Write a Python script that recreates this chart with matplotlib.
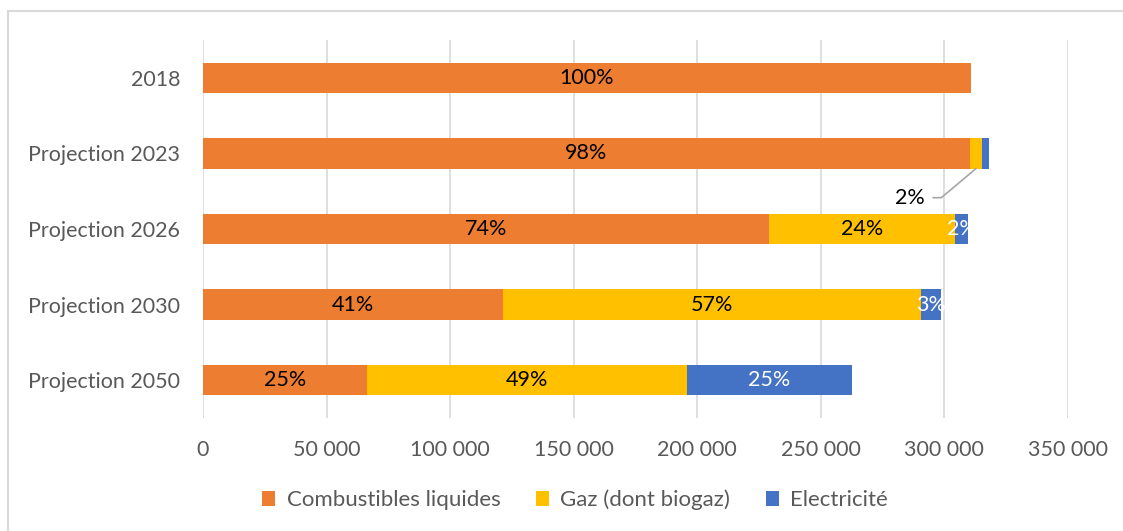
import numpy as np
import matplotlib.pyplot as plt
from matplotlib.patches import Rectangle
from matplotlib.ticker import FuncFormatter

plt.rcParams['font.family'] = ['Lato', 'DejaVu Sans']

# Consommation par usage et par source d'energie
annees = ['2018', 'Projection 2023', 'Projection 2026', 'Projection 2030', 'Projection 2050']
liquides = [310700, 310300, 229000, 121500, 66200]
gaz = [0, 5000, 75300, 169000, 129700]
electricite = [0, 2700, 5200, 8000, 66700]

series = ['Combustibles liquides', 'Gaz (dont biogaz)', 'Electricité']
couleurs = ['#ED7D31', '#FFC000', '#4472C4']
txt_couleurs = ['black', 'black', 'white']

fs = 15.5
fig = plt.figure(figsize=(11.23, 5.31), dpi=100)
ax = fig.add_axes([203/1123, 1-418/531, 865/1123, 378/531])

# cadre du graphique
fig.patches.append(Rectangle((8/1123, -0.1), 1.2, 1-11/531+0.1, transform=fig.transFigure,
                             fill=False, edgecolor='#D9D9D9', linewidth=1.5))

y = np.arange(len(annees))
data = np.array([liquides, gaz, electricite], dtype=float)
totaux = data.sum(axis=0)
left = np.zeros(len(annees))
for i, (nom, c) in enumerate(zip(series, couleurs)):
    vals = data[i]
    ax.barh(y, vals, left=left, height=0.4, color=c, label=nom, zorder=3)
    for j, v in enumerate(vals):
        pct = round(100 * v / totaux[j])
        if pct < 2:
            continue
        if annees[j] == 'Projection 2023' and i == 1:
            # etiquette deportee avec ligne de rappel
            ax.annotate(f'{pct}%', xy=(left[j] + v / 2, j + 0.2), xycoords='data',
                        xytext=(-37, -21), textcoords='offset points',
                        ha='right', va='center', fontsize=fs, color='black',
                        arrowprops=dict(arrowstyle='-', color='#A6A6A6', lw=1.2,
                                        relpos=(1, 0.5), shrinkA=4, shrinkB=0,
                                        connectionstyle='angle,angleA=0,angleB=40,rad=0'))
            continue
        ax.text(left[j] + v / 2, j, f'{pct}%', ha='center', va='center',
                fontsize=fs, color=txt_couleurs[i], zorder=4)
    left += vals

ax.set_xlim(0, 350000)
ax.set_ylim(len(annees) - 0.5, -0.5)
ax.set_xticks(np.arange(0, 350001, 50000))
ax.xaxis.set_major_formatter(FuncFormatter(lambda v, p: f'{int(v):,}'.replace(',', ' ')))
ax.set_yticks(y)
ax.set_yticklabels(annees)
ax.tick_params(length=0, labelsize=fs, colors='#595959')
ax.tick_params(axis='x', pad=16)
ax.tick_params(axis='y', pad=16.5)
ax.grid(axis='x', color='#D9D9D9', linewidth=1.2, zorder=0)
for s in ax.spines.values():
    s.set_visible(False)

fig.legend(loc='center', bbox_to_anchor=(0.512, 1-500/531), ncol=3, frameon=False,
           fontsize=16, handlelength=0.6, handleheight=0.6, handletextpad=0.5,
           columnspacing=1.6, labelcolor='#595959')

plt.savefig('out.png', dpi=100)
